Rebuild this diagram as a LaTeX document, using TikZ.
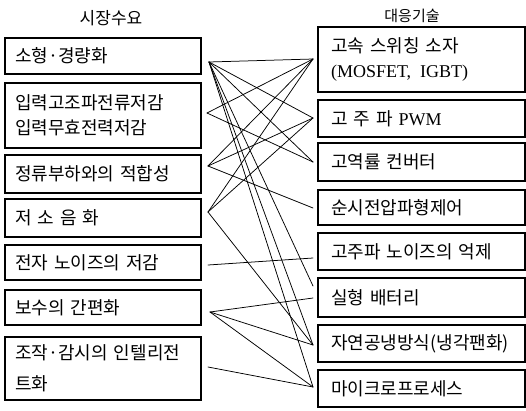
\documentclass[tikz,border=0pt]{standalone}
\usepackage{fontspec}
\setmainfont{Noto Sans CJK KR}[WordSpace=2.3]
\newfontfamily\kwide{Noto Sans CJK KR}[WordSpace=3.8]
\newfontfamily\kmid{Noto Sans CJK KR}[WordSpace=3.2]
\newfontfamily\latf{Liberation Serif}
\newcommand\tsz{\fontsize{18pt}{25pt}\selectfont}
\begin{document}
\begin{tikzpicture}[x=1pt,y=-1pt,
  boxbase/.style={draw, line width=1.1pt, rectangle, inner ysep=0pt, align=left, font=\tsz},
  lbox/.style={boxbase, text width=176pt, inner xsep=10pt},
  rbox/.style={boxbase, text width=181pt, inner xsep=13pt},
  conn/.style={line width=0.75pt, line cap=round},
  ttl/.style={inner sep=0pt}]
\useasboundingbox (0,0) rectangle (526,410);
\fill[white] (0,0) rectangle (526,410);
% titles
\node[ttl, font=\fontsize{17pt}{20pt}\selectfont] (tl) at (111,18) {시장수요};
\node[ttl, font=\fontsize{15pt}{18pt}\selectfont] (tr) at (412,16) {대응기술};
% left boxes
\node[lbox, minimum height=36pt] (L1) at (103,56) {소형·경량화};
\node[lbox, minimum height=65pt] (L2) at (103,115.5) {입력고조파전류저감\\입력무효전력저감};
\node[lbox, minimum height=38pt] (L3) at (103,174) {정류부하와의 적합성};
\node[lbox, minimum height=38pt] (L4) at (103,218) {\kwide 저 소 음 화};
\node[lbox, minimum height=35pt] (L5) at (103,262.5) {전자 노이즈의 저감};
\node[lbox, minimum height=35pt] (L6) at (103,307.5) {보수의 간편화};
\node[lbox, minimum height=63pt, font=\fontsize{18pt}{31pt}\selectfont] (L7) at (103,368.5) {조작·감시의 인텔리전\\트화};
% right boxes
\node[rbox, minimum height=65pt] (R1) at (421.5,59.5) {고속 스위칭 소자\\{\latf\fontsize{18pt}{25pt}\selectfont (MOSFET,\enspace IGBT)}};
\node[rbox, minimum height=37pt] (R2) at (421.5,118.5) {{\kmid 고 주 파} {\latf\fontsize{18pt}{25pt}\selectfont PWM}};
\node[rbox, minimum height=38pt] (R3) at (421.5,162) {고역률 컨버터};
\node[rbox, minimum height=35pt] (R4) at (421.5,207.5) {순시전압파형제어};
\node[rbox, minimum height=37pt] (R5) at (421.5,251.5) {고주파 노이즈의 억제};
\node[rbox, minimum height=39pt] (R6) at (421.5,297.5) {실형 배터리};
\node[rbox, minimum height=37pt] (R7) at (421.5,343.5) {자연공냉방식(냉각팬화)};
\node[rbox, minimum height=37pt] (R8) at (421.5,388.5) {마이크로프로세스};
% connector end points
\coordinate (a1) at (209,62);
\coordinate (a2) at (207,113);
\coordinate (a3) at (208,166);
\coordinate (a4) at (208,212);
\coordinate (a5) at (208,265);
\coordinate (a6) at (210,312);
\coordinate (a7) at (208,367);
\coordinate (b1) at (313,59);
\coordinate (b2) at (313,118);
\coordinate (b3) at (313,162);
\coordinate (b4) at (313,208);
\coordinate (b5) at (313,258);
\coordinate (b6a) at (313,286);
\coordinate (b6b) at (313,298);
\coordinate (b7) at (313,345);
\coordinate (b8) at (313,387);
% connectors
\draw[conn] (a1) -- (b1);
\draw[conn] (a1) -- (b2);
\draw[conn] (a1) -- (b3);
\draw[conn] (a1) -- (b6a);
\draw[conn] (a1) -- (b7);
\draw[conn] (a1) -- (b8);
\draw[conn] (a2) -- (b1);
\draw[conn] (a2) -- (b3);
\draw[conn] (a3) -- (b1);
\draw[conn] (a3) -- (b2);
\draw[conn] (a3) -- (b4);
\draw[conn] (a4) -- (b1);
\draw[conn] (a4) -- (b2);
\draw[conn] (a4) -- (b7);
\draw[conn] (a5) -- (b5);
\draw[conn] (a6) -- (b6b);
\draw[conn] (a6) -- (b7);
\draw[conn] (a6) -- (b8);
\draw[conn] (a7) -- (b8);
\end{tikzpicture}
\end{document}
